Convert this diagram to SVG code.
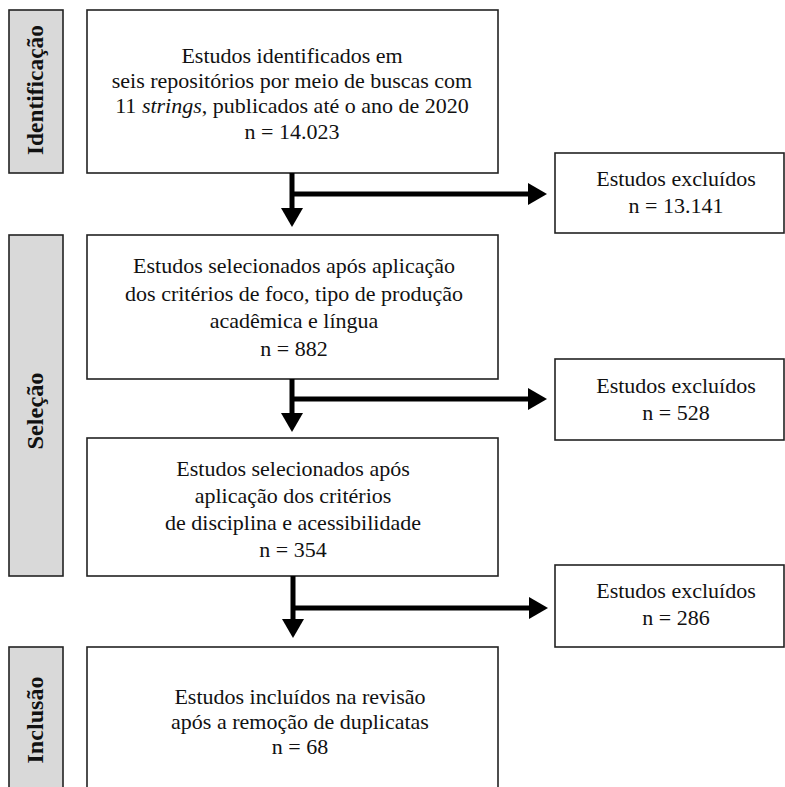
<svg xmlns="http://www.w3.org/2000/svg" width="785" height="787" viewBox="0 0 785 787">
<style>
.box{fill:#fff;stroke:#222;stroke-width:1.6}
.side{fill:#d9d9d9;stroke:#222;stroke-width:1.6}
.t{font-family:"Liberation Serif","Times New Roman",serif;font-size:22px;fill:#111;text-anchor:middle}
.lab{font-family:"Liberation Serif","Times New Roman",serif;font-size:23px;font-weight:bold;fill:#111;text-anchor:middle}
.ln{stroke:#000;stroke-width:5;fill:none}
.ah{fill:#000}
</style>
<rect width="785" height="787" fill="#fff"/>
<g id="side-identificacao">
<rect class="side" x="9" y="10" width="54" height="163"/>
<text class="lab" transform="translate(43,90) rotate(-90)" textLength="130" lengthAdjust="spacingAndGlyphs">Identificação</text>
</g>
<g id="side-selecao">
<rect class="side" x="9" y="235" width="54" height="341"/>
<text class="lab" transform="translate(43,411) rotate(-90)" textLength="77" lengthAdjust="spacingAndGlyphs">Seleção</text>
</g>
<g id="side-inclusao">
<rect class="side" x="9" y="647" width="54" height="160"/>
<text class="lab" transform="translate(43,720) rotate(-90)" textLength="87" lengthAdjust="spacingAndGlyphs">Inclusão</text>
</g>
<g id="box-identificados">
<rect class="box" x="87" y="10" width="411" height="163"/>
<text class="t" x="292" y="63">Estudos identificados em</text>
<text class="t" x="292" y="88">seis repositórios por meio de buscas com</text>
<text class="t" x="292" y="113">11 <tspan font-style="italic">strings</tspan>, publicados até o ano de 2020</text>
<text class="t" x="292" y="139">n = 14.023</text>
</g>
<g id="box-excl1">
<rect class="box" x="555" y="153" width="229" height="80"/>
<text class="t" x="676" y="186">Estudos excluídos</text>
<text class="t" x="676" y="213">n = 13.141</text>
</g>
<g id="box-selecionados1">
<rect class="box" x="87" y="235" width="411" height="144"/>
<text class="t" x="294" y="273">Estudos selecionados após aplicação</text>
<text class="t" x="294" y="301">dos critérios de foco, tipo de produção</text>
<text class="t" x="294" y="328">acadêmica e língua</text>
<text class="t" x="294" y="356">n = 882</text>
</g>
<g id="box-excl2">
<rect class="box" x="555" y="359" width="229" height="81"/>
<text class="t" x="676" y="393">Estudos excluídos</text>
<text class="t" x="676" y="420">n = 528</text>
</g>
<g id="box-selecionados2">
<rect class="box" x="87" y="438" width="411" height="138"/>
<text class="t" x="293" y="476">Estudos selecionados após</text>
<text class="t" x="293" y="503">aplicação dos critérios</text>
<text class="t" x="293" y="530">de disciplina e acessibilidade</text>
<text class="t" x="293" y="557">n = 354</text>
</g>
<g id="box-excl3">
<rect class="box" x="555" y="565" width="229" height="82"/>
<text class="t" x="676" y="598">Estudos excluídos</text>
<text class="t" x="676" y="625">n = 286</text>
</g>
<g id="box-incluidos">
<rect class="box" x="87" y="647" width="411" height="160"/>
<text class="t" x="300" y="704">Estudos incluídos na revisão</text>
<text class="t" x="300" y="729">após a remoção de duplicatas</text>
<text class="t" x="300" y="754">n = 68</text>
</g>
<g id="connectors">
<path class="ln" d="M292,173 V210 M292,194 H530"/>
<polygon class="ah" points="281,208 303,208 292,227"/>
<polygon class="ah" points="528,183 528,205 547,194"/>
<path class="ln" d="M292,379 V416 M292,399 H530"/>
<polygon class="ah" points="281,413 303,413 292,432"/>
<polygon class="ah" points="528,388 528,410 547,399"/>
<path class="ln" d="M293,576 V622 M293,608 H530"/>
<polygon class="ah" points="282,619 304,619 293,638"/>
<polygon class="ah" points="529,597 529,619 548,608"/>
</g>
</svg>
